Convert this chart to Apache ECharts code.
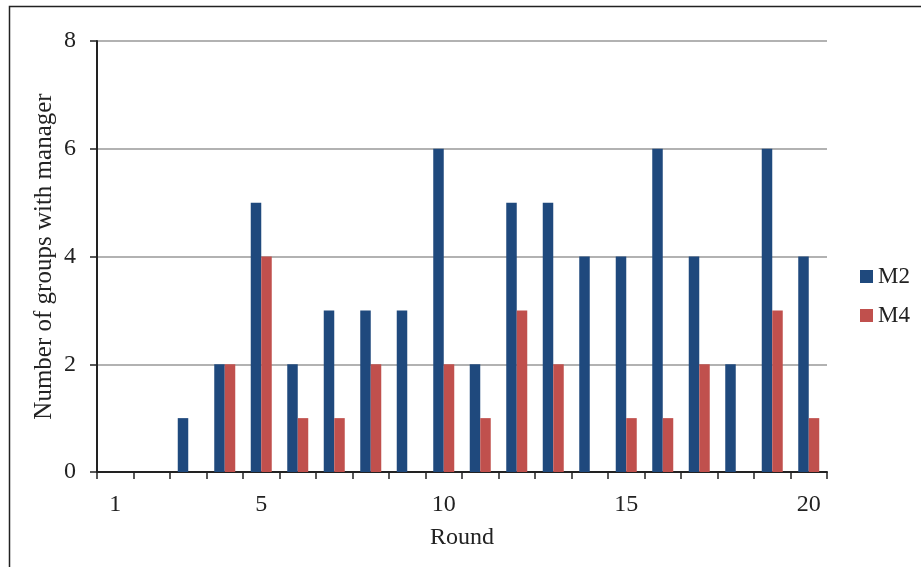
<!DOCTYPE html>
<html>
<head>
<meta charset="utf-8">
<script src="https://cdn.jsdelivr.net/npm/echarts@6/dist/echarts.min.js"></script>
<style>
  html, body { margin: 0; padding: 0; background: #fff; }
  #chart { width: 921px; height: 567px; }
</style>
</head>
<body>
<div id="chart"></div>
<script>
// Rounds 1..20 and counts of groups with a manager per treatment
const rounds = ['1','2','3','4','5','6','7','8','9','10','11','12','13','14','15','16','17','18','19','20'];
const m2 = [0, 0, 1, 2, 5, 2, 3, 3, 3, 6, 2, 5, 5, 4, 4, 6, 4, 2, 6, 4];
const m4 = [0, 0, 0, 2, 4, 1, 1, 2, 0, 2, 1, 3, 2, 0, 1, 1, 2, 0, 3, 1];
const shownRounds = ['1', '5', '10', '15', '20'];

const serif = 'Liberation Serif';
const chart = echarts.init(document.getElementById('chart'), null, { renderer: 'canvas' });

chart.setOption({
  animation: false,
  backgroundColor: '#fff',
  textStyle: { fontFamily: serif, color: '#222' },
  graphic: [{
    type: 'rect',
    shape: { x: 9.5, y: 6.5, width: 940, height: 620 },
    style: { fill: 'none', stroke: '#222', lineWidth: 1.5 },
    silent: true
  }],
  grid: { left: 97, top: 41, width: 730, height: 431, containLabel: false },
  legend: {
    orient: 'vertical',
    left: 855, top: 260,
    itemWidth: 13, itemHeight: 13, itemGap: 16,
    icon: 'rect',
    textStyle: { fontFamily: serif, fontSize: 23, color: '#222' },
    data: ['M2', 'M4']
  },
  xAxis: {
    type: 'category',
    data: rounds,
    name: 'Round',
    nameLocation: 'middle',
    nameGap: 54,
    nameMoveOverlap: false,
    nameTextStyle: { fontFamily: serif, fontSize: 24, color: '#222' },
    axisLine: { lineStyle: { color: '#222', width: 2 } },
    axisTick: { show: true, alignWithLabel: false, interval: 0, length: 7, lineStyle: { color: '#222', width: 1.5 } },
    axisLabel: {
      interval: 0,
      formatter: v => shownRounds.includes(v) ? v : '',
      margin: 21, fontFamily: serif, fontSize: 24, color: '#222'
    },
    splitLine: { show: false }
  },
  yAxis: {
    type: 'value',
    min: 0, max: 8, interval: 2,
    name: 'Number of groups with manager',
    nameLocation: 'middle',
    nameGap: 40,
    nameMoveOverlap: false,
    nameTextStyle: { fontFamily: serif, fontSize: 25, color: '#222' },
    axisLine: { show: true, lineStyle: { color: '#222', width: 2 } },
    axisTick: { show: true, length: 7, lineStyle: { color: '#222', width: 1.5 } },
    axisLabel: { margin: 21, fontFamily: serif, fontSize: 24, color: '#222' },
    splitLine: { lineStyle: { color: '#999', width: 1.5 } }
  },
  series: [
    { name: 'M2', type: 'bar', data: m2, barWidth: 10.5, barGap: '0%', itemStyle: { color: '#1F497D' } },
    { name: 'M4', type: 'bar', data: m4, barWidth: 10.5, barGap: '0%', itemStyle: { color: '#C0504D' } }
  ]
});
</script>
</body>
</html>
